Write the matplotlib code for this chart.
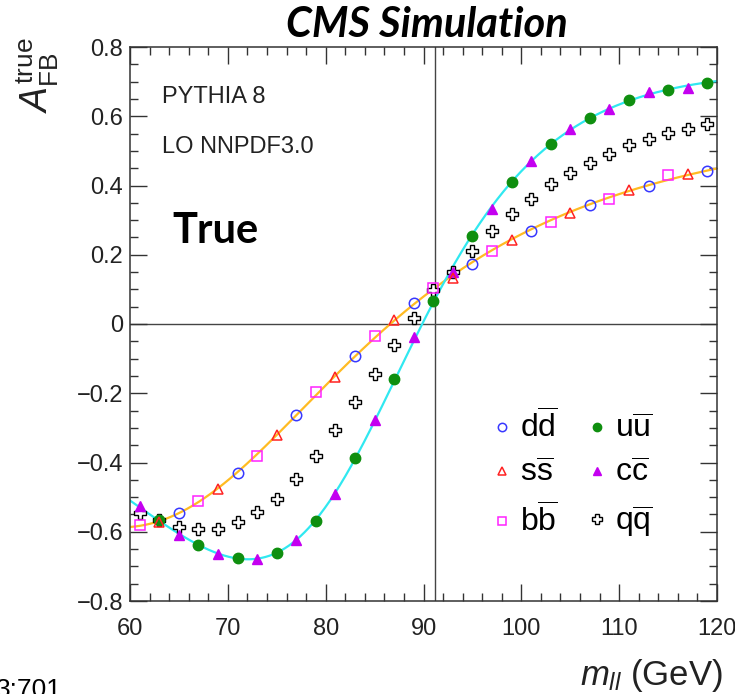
import numpy as np
import matplotlib
matplotlib.use('Agg')
import matplotlib.pyplot as plt
from matplotlib.ticker import MultipleLocator

plt.rcParams['font.family'] = ['Liberation Sans', 'DejaVu Sans']
plt.rcParams['mathtext.fontset'] = 'custom'
plt.rcParams['mathtext.rm'] = 'Liberation Sans'
plt.rcParams['mathtext.it'] = 'Liberation Sans:italic'
plt.rcParams['mathtext.bf'] = 'Liberation Sans:bold'

# dati (A_FB vero in funzione di m_ll)
x_bb = [61, 67, 73, 79, 85, 91, 97, 103, 109, 115]
a_bb = [-0.580, -0.512, -0.380, -0.197, -0.036, 0.105, 0.212, 0.294, 0.362, 0.429]
x_ss = [63, 69, 75, 81, 87, 93, 99, 105, 111, 117]
a_ss = [-0.573, -0.476, -0.322, -0.152, 0.012, 0.132, 0.243, 0.320, 0.388, 0.432]
x_dd = [65, 71, 77, 83, 89, 95, 101, 107, 113, 119]
a_dd = [-0.546, -0.429, -0.262, -0.091, 0.062, 0.174, 0.270, 0.345, 0.400, 0.442]

x_cc = [61, 65, 69, 73, 77, 81, 85, 89, 93, 97, 101, 105, 109, 113, 117]
a_cc = [-0.527, -0.608, -0.664, -0.679, -0.624, -0.491, -0.277, -0.038, 0.151, 0.331,
        0.470, 0.564, 0.622, 0.670, 0.683]
x_uu = [63, 67, 71, 75, 79, 83, 87, 91, 95, 99, 103, 107, 111, 115, 119]
a_uu = [-0.566, -0.637, -0.677, -0.662, -0.568, -0.388, -0.158, 0.066, 0.254, 0.410,
        0.521, 0.596, 0.648, 0.677, 0.697]

x_qq = list(range(61, 120, 2))
a_qq = [-0.546, -0.565, -0.585, -0.593, -0.592, -0.573, -0.544, -0.505, -0.447, -0.380,
        -0.307, -0.226, -0.144, -0.062, 0.018, 0.098, 0.150, 0.210, 0.270, 0.318,
        0.362, 0.403, 0.437, 0.465, 0.492, 0.518, 0.535, 0.551, 0.564, 0.579]

m_z = 91.19
g_z = 2.495
y_ticks = [-0.8, -0.6, -0.4, -0.2, 0, 0.2, 0.4, 0.6, 0.8]
y_tick_labels = ['\u22120.8', '\u22120.6', '\u22120.4', '\u22120.2', '0', '0.2', '0.4', '0.6', '0.8']
x_ticks = [60, 70, 80, 90, 100, 110, 120]


def chi_terms(m):
    s = m ** 2
    den = (s - m_z ** 2) ** 2 + (m_z * g_z) ** 2
    return s * (s - m_z ** 2) / den, s ** 2 / den


def fit_curve(xs, ys):
    # fit forma di Born: (c1*chi1 + c2*chi2) / (1 + d1*chi1 + d2*chi2)
    xs = np.asarray(xs, float)
    ys = np.asarray(ys, float)
    c1, c2 = chi_terms(xs)
    w = np.ones_like(xs)
    for _ in range(8):
        M = np.column_stack([c1, c2, -ys * c1, -ys * c2]) / w[:, None]
        p = np.linalg.lstsq(M, ys / w, rcond=None)[0]
        w = 1 + p[2] * c1 + p[3] * c2
    xx = np.linspace(60, 120, 600)
    k1, k2 = chi_terms(xx)
    return xx, (p[0] * k1 + p[1] * k2) / (1 + p[2] * k1 + p[3] * k2)


fig = plt.figure(figsize=(7.35, 6.94), dpi=100)
ax = fig.add_axes([130 / 735, 1 - 601 / 694, 587 / 735, 554 / 694])

# curve di fit
xd, yd = fit_curve(x_bb + x_ss + x_dd, a_bb + a_ss + a_dd)
xu, yu = fit_curve(x_cc + x_uu, a_cc + a_uu)
ax.plot(xd, yd, color='#ffbb22', lw=1.6, zorder=2)
ax.plot(xu, yu, color='#30e8f0', lw=1.6, zorder=2)

ax.axhline(0, color='#444444', lw=1.0, zorder=1)
ax.axvline(m_z, color='#444444', lw=1.0, zorder=1)

ms = 7.5
h_qq, = ax.plot(x_qq, a_qq, 'P', mfc='white', mec='black', mew=1.0, ms=ms + 1, ls='none', zorder=3, label=r'$\mathrm{q\overline{q}}$')
h_uu, = ax.plot(x_uu, a_uu, 'o', color='#0f8f0f', ms=ms, ls='none', zorder=4, label=r'$\mathrm{u\overline{u}}$')
h_cc, = ax.plot(x_cc, a_cc, '^', color='#c400f0', ms=ms, ls='none', zorder=4, label=r'$\mathrm{c\overline{c}}$')
h_dd, = ax.plot(x_dd, a_dd, 'o', mfc='none', mec='#3838ff', mew=1.1, ms=ms, ls='none', zorder=5, label=r'$\mathrm{d\overline{d}}$')
h_ss, = ax.plot(x_ss, a_ss, '^', mfc='none', mec='#ff2222', mew=1.1, ms=ms, ls='none', zorder=5, label=r'$\mathrm{s\overline{s}}$')
h_bb, = ax.plot(x_bb, a_bb, 's', mfc='none', mec='#ff22ff', mew=1.1, ms=ms, ls='none', zorder=5, label=r'$\mathrm{b\overline{b}}$')

ax.set_xlim(60, 120)
ax.set_ylim(-0.8, 0.8)
ax.set_xticks(x_ticks)
ax.set_yticks(y_ticks)
ax.set_yticklabels(y_tick_labels)
ax.xaxis.set_minor_locator(MultipleLocator(2))
ax.yaxis.set_minor_locator(MultipleLocator(0.05))
ax.tick_params(which='both', direction='in', top=True, right=True, color='#333333', width=1.0)
ax.tick_params(which='major', length=12, labelsize=17, labelcolor='#222222')
ax.tick_params(which='minor', length=6)
ax.tick_params(axis='x', pad=12)
ax.tick_params(axis='y', pad=5)
for s in ax.spines.values():
    s.set_color('#333333')
    s.set_linewidth(1.1)

leg = ax.legend(handles=[h_dd, h_ss, h_bb, h_uu, h_cc, h_qq], ncol=2, frameon=False,
                loc='upper left', bbox_to_anchor=(0.593, 0.374), fontsize=23,
                markerscale=0.8, handlelength=0.5, handletextpad=0.3,
                columnspacing=1.0, labelspacing=0.45, borderpad=0)

# testi
fig.text(427 / 735, 1 - 37 / 694, 'CMS Simulation', fontsize=30, fontweight='bold',
         fontstyle='italic', family='Lato', ha='center', va='baseline')
fig.text(162 / 735, 1 - 103 / 694, 'PYTHIA 8', fontsize=17, color='#222222', va='baseline')
fig.text(162 / 735, 1 - 153 / 694, 'LO NNPDF3.0', fontsize=17, color='#222222', va='baseline')
fig.text(172 / 735, 1 - 243 / 694, 'True', fontsize=30, fontweight='bold', family='Lato', va='baseline')
fig.text(37 / 735, 1 - 38 / 694, r'$A^{\mathrm{true}}_{\mathrm{FB}}$', fontsize=27, rotation=90,
         ha='center', va='top', color='#222222')
fig.text(723 / 735, 1 - 685 / 694, r'$m_{ll}$ (GeV)', fontsize=25, ha='right', va='baseline', color='#222222')
fig.text(-4 / 735, 1 - 697 / 694, '3:701', fontsize=19, ha='left', va='baseline')

fig.savefig('out.png', dpi=100)
